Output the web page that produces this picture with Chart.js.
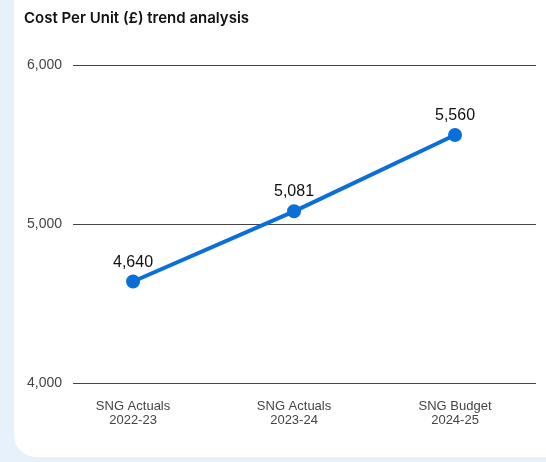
<!DOCTYPE html>
<html>
<head>
<meta charset="utf-8">
<script src="https://cdn.jsdelivr.net/npm/chart.js@4"></script>
<style>
    html, body { margin: 0; padding: 0; }
    body { width: 546px; height: 462px; background: #e6f1fb; position: relative; overflow: hidden; }
    .card { position: absolute; left: 14px; top: -30px; right: -30px; bottom: 5px; background: #fff; border-radius: 22px; }
    .wrap { position: absolute; left: 0; top: 0; width: 546px; height: 462px; }
</style>
</head>
<body>
<div class="card"></div>
<div class="wrap"><canvas id="costChart"></canvas></div>
<script>
// Chart data
const categories = [['SNG Actuals', '2022-23'], ['SNG Actuals', '2023-24'], ['SNG Budget', '2024-25']];
const costPerUnit = [4640, 5081, 5560];
const yTicks = [4000, 5000, 6000];

document.addEventListener('DOMContentLoaded', function() {
    initializeChart();
});

// Draws the value above each point
const valueLabels = {
    id: 'valueLabels',
    afterDatasetsDraw(chart) {
        const ctx = chart.ctx;
        const meta = chart.getDatasetMeta(0);
        ctx.save();
        ctx.font = '16px "Liberation Sans", Arial, sans-serif';
        ctx.fillStyle = '#111';
        ctx.textAlign = 'center';
        ctx.textBaseline = 'alphabetic';
        meta.data.forEach((pt, i) => {
            ctx.fillText(costPerUnit[i].toLocaleString('en-GB'), pt.x, pt.y - 15);
        });
        ctx.restore();
    }
};

function initializeChart() {
    const ctx = document.getElementById('costChart').getContext('2d');
    new Chart(ctx, {
        type: 'line',
        data: {
            datasets: [{
                label: 'Cost Per Unit',
                data: costPerUnit.map((v, i) => ({ x: i, y: v })),
                borderColor: '#0a6fd8',
                backgroundColor: '#0a6fd8',
                borderWidth: 4,
                pointRadius: 5,
                pointHoverRadius: 5,
                tension: 0
            }]
        },
        plugins: [valueLabels],
        options: {
            responsive: true,
            maintainAspectRatio: false,
            animation: false,
            layout: {
                padding: { left: 24, right: 10, top: 0, bottom: 26 }
            },
            plugins: {
                legend: { display: false },
                tooltip: { enabled: false },
                title: {
                    display: true,
                    text: 'Cost Per Unit (£) trend analysis',
                    align: 'start',
                    color: '#111',
                    font: { family: 'Inter, "Liberation Sans", sans-serif', size: 15, weight: '600' },
                    padding: { top: 9, bottom: 38 }
                }
            },
            scales: {
                x: {
                    type: 'linear',
                    min: -0.373,
                    max: 2.503,
                    afterBuildTicks: (scale) => {
                        scale.ticks = categories.map((c, i) => ({ value: i }));
                    },
                    grid: { display: false },
                    border: { display: false },
                    ticks: {
                        autoSkip: false,
                        maxRotation: 0,
                        padding: 8,
                        color: '#444',
                        font: { family: '"Liberation Sans", Arial, sans-serif', size: 13, lineHeight: 1.1 },
                        callback: (value) => categories[value]
                    }
                },
                y: {
                    min: yTicks[0],
                    max: yTicks[yTicks.length - 1],
                    afterBuildTicks: (scale) => {
                        scale.ticks = yTicks.map(v => ({ value: v }));
                    },
                    afterFit: (scale) => { scale.width = 49; },
                    grid: { color: '#444', lineWidth: 1, drawTicks: false },
                    border: { display: false },
                    ticks: {
                        padding: 11,
                        color: '#444',
                        font: { family: '"Liberation Sans", Arial, sans-serif', size: 14 },
                        callback: (value) => value.toLocaleString('en-GB')
                    }
                }
            }
        }
    });
}
</script>
</body>
</html>
